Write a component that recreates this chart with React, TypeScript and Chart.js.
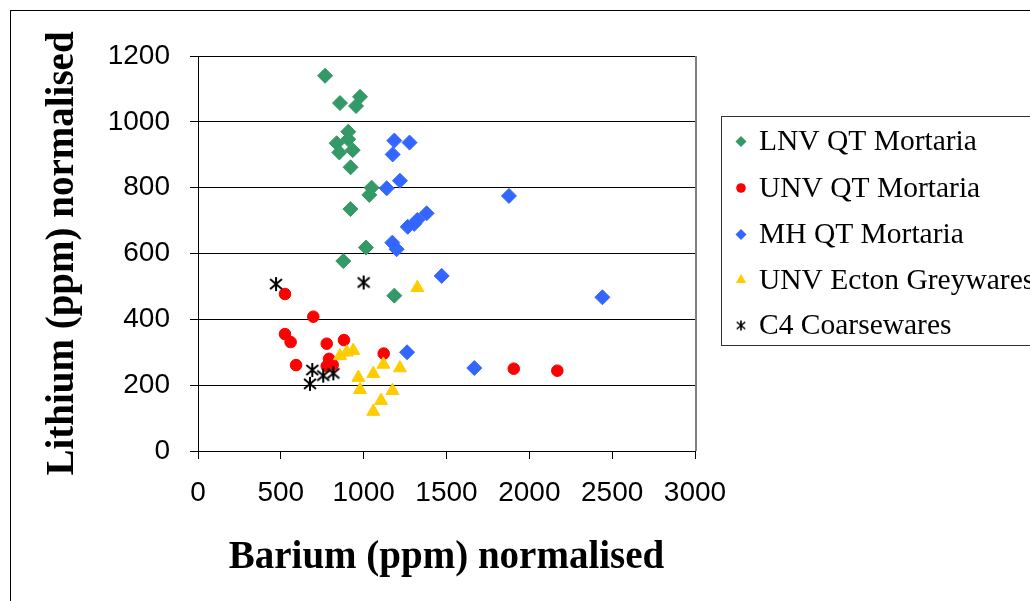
import React, { useEffect, useRef } from 'react';
import { Chart, registerables } from 'chart.js';

Chart.register(...registerables);

// Barium (x) and Lithium (y), ppm normalised
const LNV_X = [767, 857, 978, 954, 907, 907, 837, 853, 934, 921, 1048, 1034, 920, 1014, 877, 1185];
const LNV_Y = [1140, 1057, 1076, 1048, 970, 947, 935, 907, 914, 862, 800, 778, 735, 618, 577, 472];

const UNV_X = [525, 696, 525, 559, 592, 777, 881, 791, 777, 813, 1121, 1906, 2169];
const UNV_Y = [477, 408, 355, 331, 261, 326, 337, 280, 258, 262, 296, 250, 244];

const MH_X = [1185, 1277, 1175, 1219, 1139, 1380, 1324, 1305, 1266, 1173, 1199, 1877, 1471, 2441, 1262, 1668];
const MH_Y = [943, 937, 901, 821, 798, 722, 702, 690, 681, 633, 613, 775, 532, 467, 300, 252];

const ECTON_X = [1324, 857, 898, 937, 1119, 1219, 968, 1058, 978, 1174, 1105, 1058];
const ECTON_Y = [496, 289, 300, 305, 263, 252, 223, 235, 186, 183, 153, 120];

const C4_X = [471, 1000, 690, 756, 817, 676];
const C4_Y = [507, 512, 246, 229, 236, 204];

const SERIES_LABELS = ['LNV QT Mortaria', 'UNV QT Mortaria', 'MH QT Mortaria', 'UNV Ecton Greywares', 'C4 Coarsewares'];
const SERIES_COLORS = ['#339966', '#FF0000', '#3366FF', '#FFCC00', '#000000'];

const X_TICKS = [0, 500, 1000, 1500, 2000, 2500, 3000];
const Y_TICKS = [0, 200, 400, 600, 800, 1000, 1200];

const X_TITLE = 'Barium (ppm) normalised';
const Y_TITLE = 'Lithium (ppm) normalised';

function makeAsterisk(half: number, lw: number): HTMLCanvasElement {
  const size = Math.ceil(half * 2 + 4);
  const c = document.createElement('canvas');
  c.width = size;
  c.height = size;
  const g = c.getContext('2d')!;
  const m = size / 2;
  g.strokeStyle = '#000';
  g.lineWidth = lw;
  g.lineCap = 'butt';
  g.beginPath();
  g.moveTo(m, m - half);
  g.lineTo(m, m + half);
  const dx = half * 0.85;
  const dy = half * 0.7;
  g.moveTo(m - dx, m - dy);
  g.lineTo(m + dx, m + dy);
  g.moveTo(m - dx, m + dy);
  g.lineTo(m + dx, m - dy);
  g.stroke();
  return c;
}

export default function App() {
  const ref = useRef<HTMLCanvasElement>(null);

  useEffect(() => {
    if (!ref.current) return;
    const star = makeAsterisk(7, 2);
    const starSmall = makeAsterisk(5, 1.6);
    const mk = (xs: number[], ys: number[]) => xs.map((x, i) => ({ x, y: ys[i] }));
    const pairs: [number[], number[]][] = [
      [LNV_X, LNV_Y],
      [UNV_X, UNV_Y],
      [MH_X, MH_Y],
      [ECTON_X, ECTON_Y],
      [C4_X, C4_Y],
    ];
    const styles: any[] = ['rectRot', 'circle', 'rectRot', 'triangle', star];
    const radii = [7.5, 5.8, 7.5, 7.5, 8];

    const datasets = pairs.map((p, i) => ({
      label: SERIES_LABELS[i],
      data: mk(p[0], p[1]),
      pointStyle: styles[i],
      pointRadius: radii[i],
      pointHoverRadius: radii[i],
      backgroundColor: SERIES_COLORS[i],
      borderColor: SERIES_COLORS[i],
      borderWidth: 1,
      showLine: false,
      order: 5 - i,
    }));

    const framePlugin = {
      id: 'frameAndLegend',
      afterDraw(chart: any) {
        const ctx = chart.ctx as CanvasRenderingContext2D;
        const a = chart.chartArea;
        ctx.save();
        // plot area right border
        ctx.strokeStyle = '#808080';
        ctx.lineWidth = 2;
        ctx.beginPath();
        ctx.moveTo(a.right + 1, a.top);
        ctx.lineTo(a.right + 1, a.bottom);
        ctx.stroke();
        // outer frame
        ctx.strokeStyle = '#000';
        ctx.lineWidth = 1;
        ctx.strokeRect(10.5, 10.5, 1200, 800);
        // legend box
        ctx.strokeStyle = '#333';
        ctx.strokeRect(721.5, 116.5, 400, 229);
        const rows = [141.5, 188, 234.5, 280, 325.5];
        ctx.font = '29.5px "Liberation Serif", "Times New Roman", serif';
        ctx.textBaseline = 'middle';
        ctx.textAlign = 'left';
        rows.forEach((y, i) => {
          const x = 741;
          ctx.fillStyle = SERIES_COLORS[i];
          ctx.beginPath();
          if (i === 0 || i === 2) {
            const r = 5.5;
            ctx.moveTo(x - r, y);
            ctx.lineTo(x, y - r);
            ctx.lineTo(x + r, y);
            ctx.lineTo(x, y + r);
            ctx.closePath();
            ctx.fill();
          } else if (i === 1) {
            ctx.arc(x, y, 4.8, 0, Math.PI * 2);
            ctx.fill();
          } else if (i === 3) {
            const r = 6;
            ctx.moveTo(x, y - r);
            ctx.lineTo(x + r * 0.866, y + r * 0.5);
            ctx.lineTo(x - r * 0.866, y + r * 0.5);
            ctx.closePath();
            ctx.fill();
          } else {
            ctx.drawImage(starSmall, x - starSmall.width / 2, y - starSmall.height / 2);
          }
          ctx.fillStyle = '#000';
          ctx.fillText(SERIES_LABELS[i], 759, y + 1);
        });
        ctx.restore();
      },
    };

    const tickFont = { family: '"Liberation Sans", Arial, sans-serif', size: 28 };
    const titleFont = { family: '"Liberation Serif", "Times New Roman", serif', size: 39, weight: 'bold' as const };

    const chart = new Chart(ref.current, {
      type: 'scatter',
      data: { datasets: datasets as any },
      options: {
        responsive: false,
        animation: false,
        layout: { padding: { left: 0, top: 56, right: 335, bottom: 20 } },
        plugins: { legend: { display: false }, tooltip: { enabled: false } },
        scales: {
          x: {
            type: 'linear',
            position: 'bottom',
            min: X_TICKS[0],
            max: X_TICKS[X_TICKS.length - 1],
            afterBuildTicks: (s: any) => { s.ticks = X_TICKS.map((v) => ({ value: v })); },
            ticks: {
              color: '#000',
              font: tickFont,
              padding: 17,
              maxRotation: 0,
              autoSkip: false,
              callback: (v: any) => String(v),
            },
            grid: { drawOnChartArea: false, drawTicks: true, tickLength: 8, color: '#000', tickColor: '#000' },
            border: { display: true, color: '#000', width: 1 },
            title: { display: true, text: X_TITLE, color: '#000', font: titleFont, padding: { top: 0, bottom: 0 } },
            afterFit: (s: any) => { s.height = 130; },
          },
          y: {
            type: 'linear',
            position: 'left',
            min: Y_TICKS[0],
            max: Y_TICKS[Y_TICKS.length - 1],
            afterBuildTicks: (s: any) => { s.ticks = Y_TICKS.map((v) => ({ value: v })); },
            ticks: {
              color: '#000',
              font: tickFont,
              padding: 20,
              autoSkip: false,
              callback: (v: any) => String(v),
            },
            grid: { drawOnChartArea: true, drawTicks: true, tickLength: 8, color: '#000', tickColor: '#000', lineWidth: 1 },
            border: { display: true, color: '#000', width: 1 },
            title: { display: true, text: Y_TITLE, color: '#000', font: titleFont, padding: { top: 40, bottom: 0 } },
            afterFit: (s: any) => { s.width = 198; },
          },
        },
      },
      plugins: [framePlugin],
    });
    return () => chart.destroy();
  }, []);

  return (
    <div style={{ position: 'fixed', left: 0, top: 0, width: 1030, height: 601, background: '#fff', overflow: 'hidden' }}>
      <canvas ref={ref} width={1030} height={601} style={{ display: 'block', width: 1030, height: 601 }} />
    </div>
  );
}
